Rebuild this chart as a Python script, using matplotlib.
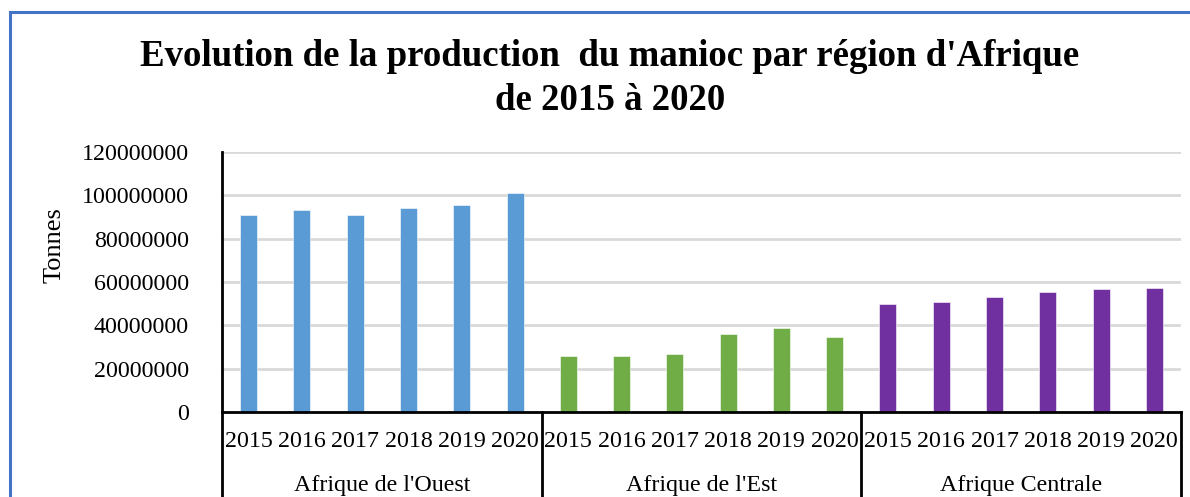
# Production de manioc par région d'Afrique, 2015-2020
import numpy as np
import matplotlib
matplotlib.use('Agg')
import matplotlib.pyplot as plt
from matplotlib.patches import Rectangle

regions = ["Afrique de l'Ouest", "Afrique de l'Est", "Afrique Centrale"]
years = ['2015', '2016', '2017', '2018', '2019', '2020']
ouest = [90900000, 93200000, 90900000, 94000000, 95700000, 100900000]
est = [25800000, 25800000, 26600000, 36000000, 38900000, 34800000]
centrale = [49700000, 50800000, 53100000, 55500000, 56600000, 57200000]
colors = ['#5B9BD5', '#70AD47', '#7030A0']

plt.rcParams['font.family'] = ['Liberation Serif', 'DejaVu Serif']

W, H = 1190, 497
fig = plt.figure(figsize=(W / 100, H / 100), dpi=100)
ax = fig.add_axes([222 / W, 1 - 412 / H, (1181 - 222) / W, 260 / H])

n = len(years)
for g, (vals, c) in enumerate(zip([ouest, est, centrale], colors)):
    x = np.arange(n) + g * n
    ax.bar(x, vals, width=0.32, color=c, edgecolor='white', linewidth=0.4, zorder=3)

ax.set_xlim(-0.5, 3 * n - 0.5)
ax.set_ylim(0, 120000000)
ax.set_yticks(np.arange(0, 120000001, 20000000))
ax.yaxis.set_major_formatter(matplotlib.ticker.FuncFormatter(lambda v, p: '%d' % v))
ax.grid(axis='y', color='#d9d9d9', linewidth=2, zorder=0)
ax.tick_params(axis='y', length=0, pad=24, labelsize=17.3)
ax.set_ylabel('Tonnes', fontsize=19)
ax.yaxis.set_label_coords((66 - 222) / (1181 - 222), (412 - 245) / 260)

ax.set_xticks(np.arange(3 * n))
ax.set_xticklabels(years * 3)
ax.tick_params(axis='x', length=0, pad=14, labelsize=17.3)

for s in ['top', 'right']:
    ax.spines[s].set_visible(False)
for s in ['left', 'bottom']:
    ax.spines[s].set_linewidth(2)
    ax.spines[s].set_zorder(4)

# séparateurs et libellés des régions sous l'axe
tr = ax.get_xaxis_transform()
for b in np.arange(-0.5, 3 * n, n):
    ax.plot([b, b], [0, -0.5], transform=tr, color='black', lw=2, clip_on=False)
for g, r in enumerate(regions):
    ax.text(g * n + (n - 1) / 2, -(485 - 412) / 260, r, transform=tr, ha='center',
            va='center', fontsize=17.3)

fig.text(610 / W, 1 - 57 / H, "Evolution de la production  du manioc par région d'Afrique",
         ha='center', va='center', fontsize=26.6, fontweight='bold')
fig.text(610 / W, 1 - 100 / H, 'de 2015 à 2020',
         ha='center', va='center', fontsize=26.6, fontweight='bold')

fig.patches.append(Rectangle((9.5 / W, -0.1), 1.2, 1.1 - 11.5 / H, transform=fig.transFigure,
                             fill=False, edgecolor='#4472C4', linewidth=2.2))

fig.savefig('out.png', dpi=100)
